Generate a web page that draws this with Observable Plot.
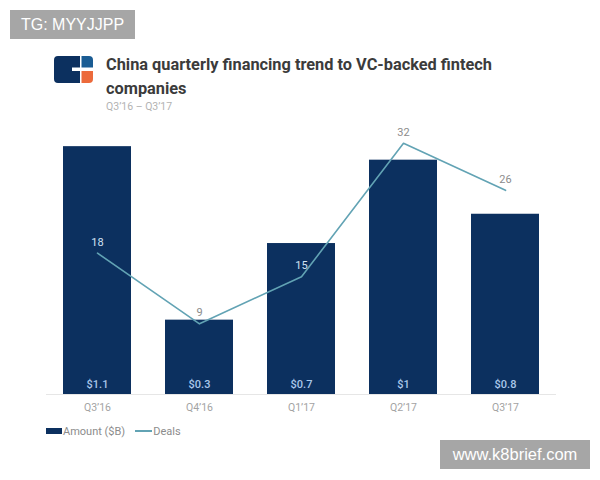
<!DOCTYPE html>
<html>
<head>
<meta charset="utf-8">
<script src="https://cdn.jsdelivr.net/npm/d3@7"></script>
<script src="https://cdn.jsdelivr.net/npm/@observablehq/plot@0.6"></script>
<style>
  html, body { margin: 0; padding: 0; background: #ffffff; width: 600px; height: 480px; overflow: hidden; font-family: Roboto, "Noto Sans", sans-serif; }
  .abs { position: absolute; }
  .wm { position: absolute; background: #a6a6a6; color: #ffffff; font-family: "Liberation Sans", Arial, sans-serif; display: flex; align-items: center; justify-content: center; }
  #title { left: 106px; top: 53px; font-size: 16px; font-weight: 700; line-height: 23.6px; color: #3b3b3b; white-space: nowrap; transform-origin: 0 0; }
  #subtitle { left: 106px; top: 100px; font-size: 10.5px; color: #b3b3b3; white-space: nowrap; }
  #chart { left: 0; top: 120px; }
  #legend { left: 46px; top: 423px; font-size: 11px; color: #8c8c8c; display: flex; align-items: center; height: 16px; }
  .sw-bar { width: 16px; height: 6px; background: #0c305f; margin-right: 1px; }
  .sw-line { width: 17px; height: 2px; background: #62a3b4; margin-left: 10px; margin-right: 1px; }
</style>
</head>
<body>
<div class="wm" style="left:10px;top:10px;width:125px;height:29px;font-size:16px;">TG: MYYJJPP</div>
<svg class="abs" style="left:54px;top:56px" width="39" height="27" viewBox="0 0 39 27">
  <path d="M4 0 H26 V11.5 H18 V15 H26 V27 H4 Q0 27 0 23 V4 Q0 0 4 0 Z" fill="#0c305f"/>
  <path d="M27.5 0 H35 Q39 0 39 4 V11.5 H27.5 Z" fill="#1a5c93"/>
  <path d="M27.5 15 H39 V23 Q39 27 35 27 H27.5 Z" fill="#ec6a3b"/>
</svg>
<div id="title" class="abs">China quarterly financing trend to VC-backed fintech<br>companies</div>
<div id="subtitle" class="abs">Q3’16 – Q3’17</div>
<div id="chart" class="abs"></div>
<div id="legend" class="abs"><div class="sw-bar"></div><span>Amount ($B)</span><div class="sw-line"></div><span>Deals</span></div>
<div class="wm" style="left:440px;top:440px;width:150px;height:29px;font-size:16.5px;">www.k8brief.com</div>
<script>
const quarters = ["Q3’16", "Q4’16", "Q1’17", "Q2’17", "Q3’17"];
const amounts = [1.1, 0.33, 0.67, 1.04, 0.80];
const amountLabels = ["$1.1", "$0.3", "$0.7", "$1", "$0.8"];
const deals = [18, 9, 15, 32, 26];

// fit title first line width
const titleEl = document.getElementById("title");
const w = titleEl.getBoundingClientRect().width;
titleEl.style.transform = `scaleX(${386 / w})`;

const dealsMax = 34;
const amountMax = 1.185;
const k = dealsMax / amountMax;

const rows = quarters.map((q, i) => ({
  quarter: q,
  amount: amounts[i],
  amountY: amounts[i] * k,
  amountLabel: amountLabels[i],
  deals: deals[i]
}));

const labelOffsetPx = 11;
const pxPerDeal = (300 - 26 - 7) / dealsMax;

const chart = Plot.plot({
  width: 600,
  height: 300,
  marginLeft: 46,
  marginRight: 44,
  marginTop: 7,
  marginBottom: 26,
  style: { fontFamily: "Roboto, sans-serif", background: "transparent" },
  x: { domain: quarters, paddingInner: 1/3, paddingOuter: 1/6, label: null },
  y: { domain: [0, dealsMax], axis: null },
  marks: [
    Plot.ruleY([0], { stroke: "#e6e6e6", strokeWidth: 1 }),
    Plot.barY(rows, { x: "quarter", y: "amountY", fill: "#0c305f" }),
    Plot.text(rows, { x: "quarter", y: 0, text: "amountLabel", dy: -10, fill: "#a9c7ea", fontSize: 11, fontWeight: 500 }),
    Plot.line(rows, { x: "quarter", y: "deals", stroke: "#62a3b4", strokeWidth: 1.6 }),
    Plot.text(rows, {
      x: "quarter", y: "deals", text: "deals", dy: -labelOffsetPx, fontSize: 11,
      fill: d => (d.deals + labelOffsetPx / pxPerDeal < d.amountY ? "#d2e2f3" : "#8c8c8c")
    }),
    Plot.axisX({ tickSize: 0, tickPadding: 9, fontSize: 10.5, color: "#a3a3a3", label: null })
  ]
});
document.getElementById("chart").appendChild(chart);
</script>
</body>
</html>
